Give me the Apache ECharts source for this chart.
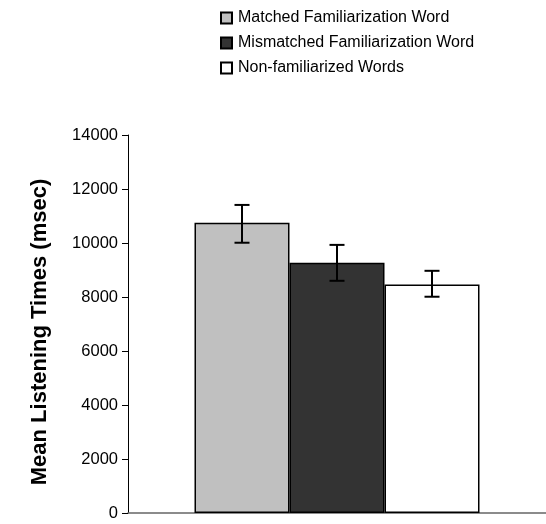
<!DOCTYPE html>
<html>
<head>
<meta charset="utf-8">
<script src="https://cdn.jsdelivr.net/npm/echarts@6/dist/echarts.min.js"></script>
<style>
  html, body { margin: 0; padding: 0; background: #fff; }
  #chart { width: 546px; height: 524px; }
</style>
</head>
<body>
<div id="chart"></div>
<script>
// data
const groupNames = ['Matched Familiarization Word', 'Mismatched Familiarization Word', 'Non-familiarized Words'];
const meanValues = [10750, 9270, 8460];
const errLow = [10010, 8600, 8010];
const errHigh = [11410, 9930, 8970];
const barColors = ['#c0c0c0', '#333333', '#ffffff'];
const yTicks = { min: 0, max: 14000, interval: 2000 };

const BAR_W = 95;
const FONT = 'Liberation Sans, Arial, sans-serif';

const chart = echarts.init(document.getElementById('chart'));

const barSeries = groupNames.map((name, i) => ({
  name: name,
  type: 'bar',
  data: [meanValues[i]],
  barWidth: BAR_W,
  barGap: '0%',
  itemStyle: { color: barColors[i], borderColor: '#000', borderWidth: 1.5 },
  z: 2,
}));

// error bars, one per bar, offset from the category centre by bar width
const errSeries = {
  type: 'custom',
  silent: true,
  z: 5,
  data: groupNames.map((n, i) => [0, errLow[i], errHigh[i], i]),
  renderItem: (params, api) => {
    const i = api.value(3);
    const off = (i - (groupNames.length - 1) / 2) * BAR_W;
    const lo = api.coord([api.value(0), api.value(1)]);
    const hi = api.coord([api.value(0), api.value(2)]);
    const x = lo[0] + off;
    const cap = 7.5;
    const style = { stroke: '#000', lineWidth: 2 };
    return {
      type: 'group',
      children: [
        { type: 'line', shape: { x1: x, y1: lo[1], x2: x, y2: hi[1] }, style },
        { type: 'line', shape: { x1: x - cap, y1: lo[1], x2: x + cap, y2: lo[1] }, style },
        { type: 'line', shape: { x1: x - cap, y1: hi[1], x2: x + cap, y2: hi[1] }, style },
      ],
    };
  },
};

const option = {
  animation: false,
  textStyle: { fontFamily: FONT },
  legend: {
    data: groupNames,
    orient: 'vertical',
    left: 215,
    top: 5,
    itemWidth: 11,
    itemHeight: 11,
    itemGap: 9,
    icon: 'rect',
    textStyle: { fontSize: 16, color: '#000', fontFamily: FONT, padding: [0, 0, 0, 1] },
  },
  grid: { left: 128, right: -5, top: 135, bottom: 11, containLabel: false },
  xAxis: {
    type: 'category',
    data: [''],
    axisLine: { lineStyle: { color: '#666', width: 1.5 } },
    axisTick: { show: false },
    axisLabel: { show: false },
  },
  yAxis: {
    type: 'value',
    min: yTicks.min,
    max: yTicks.max,
    interval: yTicks.interval,
    name: 'Mean Listening Times (msec)',
    nameLocation: 'middle',
    nameGap: 77,
    nameTextStyle: { fontSize: 22, fontWeight: 'bold', color: '#000', fontFamily: FONT, padding: [0, 16, 0, 0] },
    axisLine: { show: true, lineStyle: { color: '#000', width: 1 } },
    axisTick: { show: true, inside: false, length: 6, lineStyle: { color: '#000' } },
    axisLabel: { fontSize: 16.5, color: '#000', margin: 10, fontFamily: FONT, formatter: (v) => String(v) },
    splitLine: { show: false },
  },
  series: [...barSeries, errSeries],
};

chart.setOption(option);
</script>
</body>
</html>
